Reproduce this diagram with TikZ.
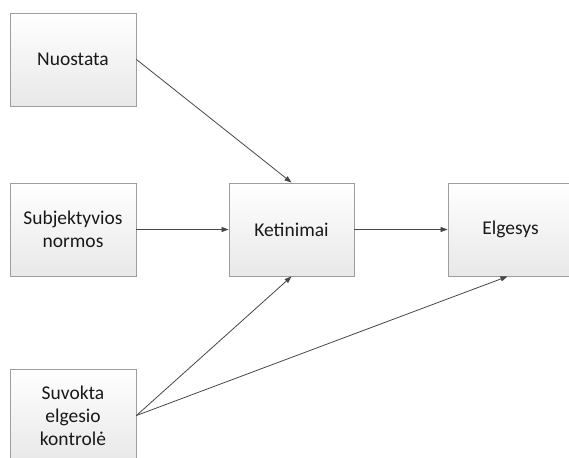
\documentclass[tikz,border=0pt]{standalone}
\usepackage{fontspec}
\setmainfont{Carlito}
\usetikzlibrary{arrows.meta}
\tikzset{
  box/.style={draw=black!38, line width=0.9pt, top color=white, bottom color=black!9,
    minimum width=126pt, minimum height=93pt, inner sep=0pt, align=center,
    font=\fontsize{19.5}{23}\selectfont, text=black!90},
  link/.style={draw=black!72, line width=0.8pt, -{Triangle[length=7pt,width=5pt]}}
}
\begin{document}
\begin{tikzpicture}[x=1pt,y=-1pt]
\useasboundingbox (0,0) rectangle (569,457);
\fill[white] (0,0) rectangle (569,457);
\node[box] (nuo) at (73,59.5) {Nuostata};
\node[box] (sub) at (73,229.5) {Subjektyvios\\normos};
\node[box] (suv) at (73,415.5) {Suvokta\\elgesio\\kontrolė};
\node[box, minimum width=125pt] (ket) at (291.5,229.5) {Ketinimai};
\node[box, minimum width=125pt] (elg) at (510.5,229.5) {Elgesys};
\draw[link] (nuo.east) -- (ket.north);
\draw[link] (sub.east) -- (ket.west);
\draw[link] (ket.east) -- (elg.west);
\draw[link] (suv.east) -- (ket.south);
\draw[link] (suv.east) -- ([xshift=-3pt]elg.south);
\end{tikzpicture}
\end{document}
